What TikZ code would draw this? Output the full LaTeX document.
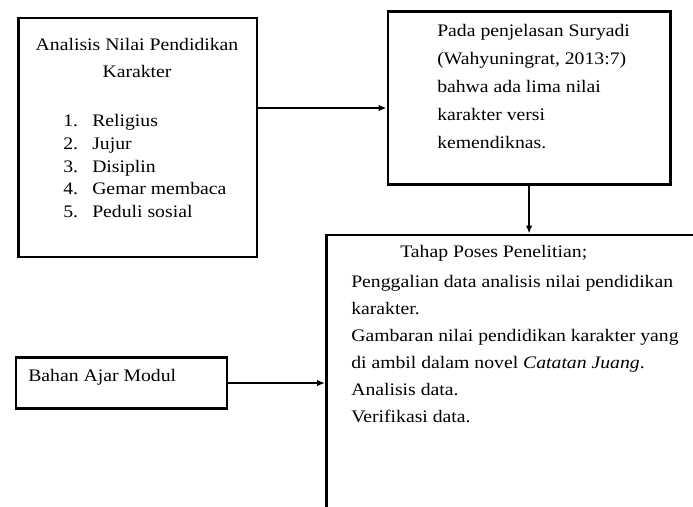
\documentclass[tikz,border=0pt]{standalone}
\usepackage{fontspec}
\setmainfont{Liberation Serif}[FakeStretch=1.12]
\usetikzlibrary{arrows.meta,calc,positioning}
\tikzset{>={Latex[length=6pt,width=5pt]}}

\begin{document}
\begin{tikzpicture}[x=0.75pt, y=-0.75pt, font=\fontsize{13.2}{15}\selectfont,
	box/.style={draw, line width=2pt, anchor=north west, inner sep=0pt},
	txt/.style={anchor=base west, inner sep=0pt},
	link/.style={->, line width=1.4pt}]
		\useasboundingbox (0,0) rectangle (693,507);
		\clip (0,0) rectangle (693,507);
		
		\node[box, minimum width=178.9pt, minimum height=179.3pt] (analisis) at (17,16.5)  {};
		\node[box, minimum width=211.9pt, minimum height=130.1pt] (pada)     at (386.5,10) {};
		\node[box, minimum width=296.3pt, minimum height=229.9pt] (tahap)    at (325,233.5) {};
		\node[box, minimum width=158.3pt, minimum height=38.6pt]  (bahan)    at (14.5,356) {};
		
		% box texts
		\node[txt, anchor=base] (analisisA) at (137,50) {Analisis Nilai Pendidikan};
		\node[txt, anchor=base] (analisisB) at (137,77) {Karakter};
		\foreach \n/\lbl [count=\i from 0] in {1/Religius, 2/Jujur, 3/Disiplin, 4/Gemar membaca, 5/Peduli sosial} {
			\node[txt] (num\n)  at (63,126.7+22.65*\i) {\n.};
			\node[txt] (nilai\n) at (92,126.7+22.65*\i) {\lbl};
		}
		
		\foreach \lbl [count=\i from 0] in {Pada penjelasan Suryadi, {(Wahyuningrat, 2013:7)}, bahwa ada lima nilai, karakter versi, kemendiknas.}
			\node[txt] (pada\i) at (437,36+28.2*\i) {\lbl};
		
		\node[txt] (tahapA) at (400,257) {Tahap Poses Penelitian;};
		\foreach \lbl [count=\i from 0] in {Penggalian data analisis nilai pendidikan, karakter., Gambaran nilai pendidikan karakter yang, {di ambil dalam novel \textit{Catatan Juang}.}, Analisis data., Verifikasi data.}
			\node[txt] (tahap\i) at (351,287+27*\i) {\lbl};
		
		\node[txt] (bahanA) at (28,381.7) {Bahan Ajar Modul};
		
		% connectors
		\coordinate (linky) at (0,108);
		\draw[link] (analisis.east |- linky) -- (pada.west |- linky);
		\draw[link] (pada.south) -- (pada.south |- tahap.north);
		\draw[link] (bahan.east) -- (bahan.east -| tahap.west);
	\end{tikzpicture}
\end{document}
